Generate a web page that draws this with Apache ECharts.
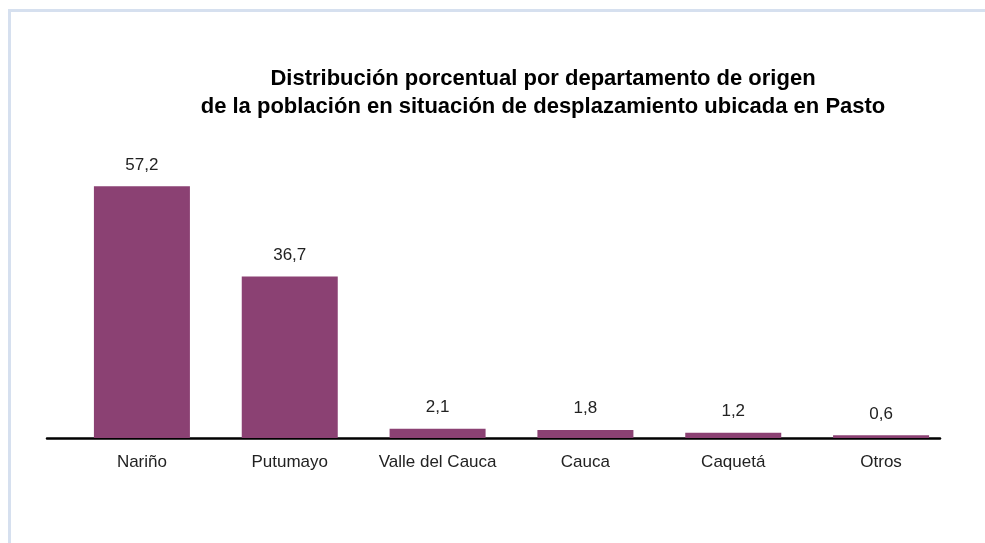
<!DOCTYPE html>
<html>
<head>
<meta charset="utf-8">
<script src="https://cdn.jsdelivr.net/npm/echarts@6/dist/echarts.min.js"></script>
<style>
  body { margin: 0; background: #fff; }
  #main { position: absolute; left: 0; top: 0; width: 985px; height: 543px; }
  #frame { position: absolute; left: 8px; top: 9px; width: 1000px; height: 600px; border: 3px solid #d6e0ef; pointer-events: none; }
</style>
</head>
<body>
<div id="main"></div>
<div id="frame"></div>
<script>
var categories = ['Nariño', 'Putumayo', 'Valle del Cauca', 'Cauca', 'Caquetá', 'Otros'];
var values = [57.2, 36.7, 2.1, 1.8, 1.2, 0.6];
var titleLines = [
  'Distribución porcentual por departamento de origen',
  'de la población en situación de desplazamiento ubicada en Pasto'
];

var myChart = echarts.init(document.getElementById('main'));
var font = '"Liberation Sans", Arial, sans-serif';

var option = {
  animation: false,
  title: {
    text: titleLines.join('\n'),
    left: 538,
    top: 60,
    textAlign: 'center',
    textStyle: {
      fontFamily: font,
      fontWeight: 'bold',
      fontSize: 22,
      lineHeight: 28,
      color: '#000'
    }
  },
  grid: [
    // grid used only for the baseline
    { left: 47, right: 45, top: 174, bottom: 105 },
    // grid for the bars
    { left: 68, right: 30, top: 174, bottom: 105 }
  ],
  xAxis: [
    {
      gridIndex: 0,
      type: 'value',
      min: 0,
      max: 1,
      axisLine: { show: true, lineStyle: { color: '#000', width: 2.5 } },
      axisTick: { show: false },
      axisLabel: { show: false },
      splitLine: { show: false }
    },
    {
      gridIndex: 1,
      type: 'category',
      data: categories,
      axisLine: { show: false },
      axisTick: { show: false },
      axisLabel: {
        interval: 0,
        hideOverlap: false,
        margin: 16,
        fontFamily: font,
        fontSize: 17,
        color: '#222'
      }
    }
  ],
  yAxis: [
    { gridIndex: 0, type: 'value', show: false, min: 0, max: 60 },
    { gridIndex: 1, type: 'value', show: false, min: 0, max: 60 }
  ],
  series: [
    {
      type: 'bar',
      xAxisIndex: 1,
      yAxisIndex: 1,
      data: values,
      barWidth: 96,
      itemStyle: { color: '#8b4173' },
      label: {
        show: true,
        position: 'top',
        distance: 13,
        fontFamily: font,
        fontSize: 17,
        color: '#222',
        formatter: function (p) {
          return p.value.toFixed(1).replace('.', ',');
        }
      }
    }
  ]
};

myChart.setOption(option);
</script>
</body>
</html>
